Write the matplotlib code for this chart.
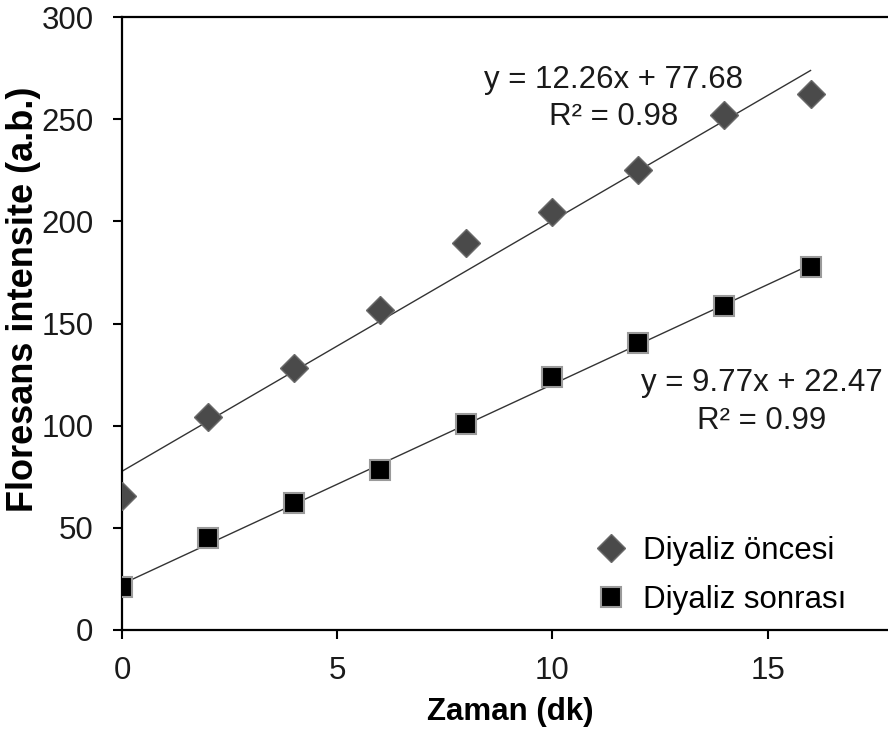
import numpy as np
import matplotlib.pyplot as plt

plt.rcParams['font.family'] = ['Liberation Sans', 'DejaVu Sans']

zaman = [0, 2, 4, 6, 8, 10, 12, 14, 16]
oncesi = [65.6, 104.4, 128.1, 156.6, 189.5, 204.7, 225.1, 252.0, 262.3]
sonrasi = [20.9, 45.2, 62.0, 78.3, 100.8, 123.8, 140.5, 158.7, 177.8]
# trendline coefficients as printed on the chart
egim1, kesim1 = 12.26, 77.68
egim2, kesim2 = 9.77, 22.47
etiket1 = "y = 12.26x + 77.68\nR² = 0.98"
etiket2 = "y = 9.77x + 22.47\nR² = 0.99"

fs = 22.5
fig = plt.figure(figsize=(8.88, 7.34), dpi=100)
ax = fig.add_axes([0.1374, 0.1417, 0.8626, 0.8351])

xx = np.array([0, 16])
ax.plot(xx, egim1*xx+kesim1, color='#333333', lw=1.0, zorder=2)
ax.plot(xx, egim2*xx+kesim2, color='#333333', lw=1.0, zorder=2)
ax.plot(zaman, oncesi, 'D', ms=14, color='#4a4a4a', mec='#6a6a6a', mew=1,
        label='Diyaliz öncesi', zorder=3)
ax.plot(zaman, sonrasi, 's', ms=15, color='black', mec='#9a9a9a', mew=1.5,
        label='Diyaliz sonrası', zorder=3)

ax.text(11.42, 260, etiket1, ha='center', va='center', fontsize=fs,
        linespacing=1.32, color='#1a1a1a')
ax.text(14.86, 111.6, etiket2, ha='center', va='center', fontsize=fs,
        linespacing=1.32, color='#1a1a1a')

ax.set_xlim(0, 17.8)
ax.set_ylim(0, 300)
ax.set_xticks([0, 5, 10, 15])
ax.set_yticks(np.arange(0, 301, 50))
ax.spines['right'].set_visible(False)
for s in ['left', 'bottom', 'top']:
    ax.spines[s].set_linewidth(1.6)
ax.tick_params(axis='both', direction='out', length=6.5, width=1.5,
               labelsize=fs, colors='black', labelcolor='#1a1a1a')
ax.tick_params(axis='y', pad=14)
ax.tick_params(axis='x', pad=12)
ax.set_xlabel('Zaman (dk)', fontsize=fs, fontweight='bold')
ax.set_ylabel('Floresans intensite (a.b.)', fontsize=26, fontweight='bold')
ax.xaxis.set_label_coords(0.5065, -0.134)
ax.xaxis.label.set_va('center')
ax.yaxis.set_label_coords(-0.128, 0.54)
ax.yaxis.label.set_va('center')

ax.legend(loc='lower right', bbox_to_anchor=(0.982, -0.021), frameon=False,
          fontsize=fs, handlelength=1.4, handletextpad=0.3,
          borderaxespad=0.5, labelspacing=0.6)

fig.savefig('out.png', dpi=100)
